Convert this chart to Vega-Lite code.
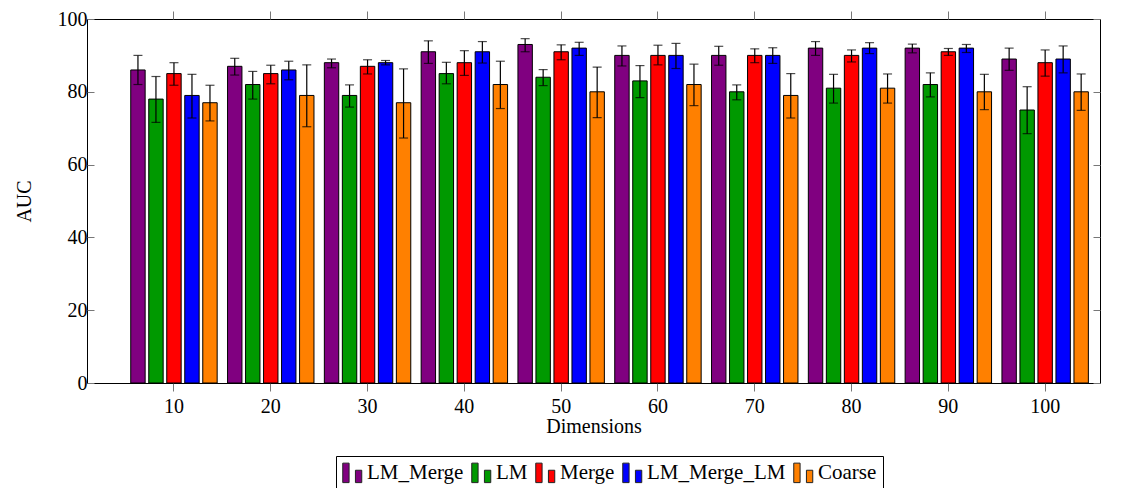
{
  "$schema": "https://vega.github.io/schema/vega-lite/v6.json",
  "width": 1013,
  "height": 364,
  "autosize": {"type": "none"},
  "padding": {"left": 87, "top": 19, "right": 27, "bottom": 105},
  "background": "white",
  "config": {
    "view": {"stroke": "black", "strokeWidth": 1},
    "font": "Liberation Serif",
    "axis": {"labelFont": "Liberation Serif", "titleFont": "Liberation Serif", "labelFontSize": 20, "titleFontSize": 20, "titleFontWeight": "normal", "labelColor": "black", "titleColor": "black", "grid": false, "domainColor": "black", "tickColor": "#777"},
    "legend": {"labelFont": "Liberation Serif", "labelFontSize": 21, "labelColor": "black"}
  },
  "data": {
    "values": [
      {"dim": 10, "series": "LM_Merge", "auc": 86, "lo": 82, "hi": 90},
      {"dim": 10, "series": "LM", "auc": 78, "lo": 71.6, "hi": 84.2},
      {"dim": 10, "series": "Merge", "auc": 85, "lo": 81.8, "hi": 88},
      {"dim": 10, "series": "LM_Merge_LM", "auc": 79, "lo": 72.8, "hi": 84.8},
      {"dim": 10, "series": "Coarse", "auc": 77, "lo": 72, "hi": 81.8},
      {"dim": 20, "series": "LM_Merge", "auc": 87, "lo": 84.6, "hi": 89.2},
      {"dim": 20, "series": "LM", "auc": 82, "lo": 78, "hi": 85.6},
      {"dim": 20, "series": "Merge", "auc": 85, "lo": 82.2, "hi": 87.3},
      {"dim": 20, "series": "LM_Merge_LM", "auc": 86, "lo": 83.3, "hi": 88.4},
      {"dim": 20, "series": "Coarse", "auc": 79, "lo": 70.4, "hi": 87.4},
      {"dim": 30, "series": "LM_Merge", "auc": 88, "lo": 86.6, "hi": 89},
      {"dim": 30, "series": "LM", "auc": 79, "lo": 75.8, "hi": 81.9},
      {"dim": 30, "series": "Merge", "auc": 87, "lo": 84.9, "hi": 88.8},
      {"dim": 30, "series": "LM_Merge_LM", "auc": 88, "lo": 87.4, "hi": 88.6},
      {"dim": 30, "series": "Coarse", "auc": 77, "lo": 67.3, "hi": 86.3},
      {"dim": 40, "series": "LM_Merge", "auc": 91, "lo": 87.8, "hi": 94},
      {"dim": 40, "series": "LM", "auc": 85, "lo": 82.2, "hi": 88.1},
      {"dim": 40, "series": "Merge", "auc": 88, "lo": 84.5, "hi": 91.3},
      {"dim": 40, "series": "LM_Merge_LM", "auc": 91, "lo": 87.9, "hi": 93.8},
      {"dim": 40, "series": "Coarse", "auc": 82, "lo": 75.4, "hi": 88.4},
      {"dim": 50, "series": "LM_Merge", "auc": 93, "lo": 91, "hi": 94.6},
      {"dim": 50, "series": "LM", "auc": 84, "lo": 81.7, "hi": 86.1},
      {"dim": 50, "series": "Merge", "auc": 91, "lo": 88.8, "hi": 92.9},
      {"dim": 50, "series": "LM_Merge_LM", "auc": 92, "lo": 90, "hi": 93.6},
      {"dim": 50, "series": "Coarse", "auc": 80, "lo": 72.9, "hi": 86.8},
      {"dim": 60, "series": "LM_Merge", "auc": 90, "lo": 87.1, "hi": 92.6},
      {"dim": 60, "series": "LM", "auc": 83, "lo": 78.4, "hi": 87.2},
      {"dim": 60, "series": "Merge", "auc": 90, "lo": 87.4, "hi": 92.8},
      {"dim": 60, "series": "LM_Merge_LM", "auc": 90, "lo": 86.4, "hi": 93.3},
      {"dim": 60, "series": "Coarse", "auc": 82, "lo": 76.2, "hi": 87.6},
      {"dim": 70, "series": "LM_Merge", "auc": 90, "lo": 87.3, "hi": 92.5},
      {"dim": 70, "series": "LM", "auc": 80, "lo": 77.8, "hi": 81.9},
      {"dim": 70, "series": "Merge", "auc": 90, "lo": 88, "hi": 91.8},
      {"dim": 70, "series": "LM_Merge_LM", "auc": 90, "lo": 87.8, "hi": 92.1},
      {"dim": 70, "series": "Coarse", "auc": 79, "lo": 72.8, "hi": 85},
      {"dim": 80, "series": "LM_Merge", "auc": 92, "lo": 90, "hi": 93.8},
      {"dim": 80, "series": "LM", "auc": 81, "lo": 76.9, "hi": 84.8},
      {"dim": 80, "series": "Merge", "auc": 90, "lo": 88.2, "hi": 91.5},
      {"dim": 80, "series": "LM_Merge_LM", "auc": 92, "lo": 90.5, "hi": 93.5},
      {"dim": 80, "series": "Coarse", "auc": 81, "lo": 76.9, "hi": 84.9},
      {"dim": 90, "series": "LM_Merge", "auc": 92, "lo": 90.7, "hi": 93.1},
      {"dim": 90, "series": "LM", "auc": 82, "lo": 78.6, "hi": 85.2},
      {"dim": 90, "series": "Merge", "auc": 91, "lo": 90, "hi": 91.9},
      {"dim": 90, "series": "LM_Merge_LM", "auc": 92, "lo": 90.8, "hi": 93},
      {"dim": 90, "series": "Coarse", "auc": 80, "lo": 75.1, "hi": 84.8},
      {"dim": 100, "series": "LM_Merge", "auc": 89, "lo": 85.9, "hi": 92},
      {"dim": 100, "series": "LM", "auc": 75, "lo": 68.5, "hi": 81.4},
      {"dim": 100, "series": "Merge", "auc": 88, "lo": 84.3, "hi": 91.5},
      {"dim": 100, "series": "LM_Merge_LM", "auc": 89, "lo": 85.2, "hi": 92.6},
      {"dim": 100, "series": "Coarse", "auc": 80, "lo": 74.9, "hi": 84.9}
    ]
  },
  "encoding": {
    "x": {"field": "dim", "type": "ordinal", "axis": null, "scale": {"paddingInner": 0.07, "paddingOuter": 0.2675, "align": 0.81}},
    "xOffset": {"field": "series", "type": "nominal", "sort": ["LM_Merge", "LM", "Merge", "LM_Merge_LM", "Coarse"], "scale": {"paddingInner": 0.2, "paddingOuter": 0.1}}
  },
  "layer": [
    {
      "mark": {"type": "bar", "stroke": "black", "strokeWidth": 1},
      "encoding": {
        "x": {"field": "dim", "type": "ordinal", "axis": {"orient": "bottom", "title": "Dimensions", "labelAngle": 0, "tickSize": 8, "labelPadding": 5, "titlePadding": 0, "domain": false}},
        "y": {"field": "auc", "type": "quantitative", "scale": {"domain": [0, 100], "nice": false}, "axis": {"orient": "left", "title": "AUC", "values": [0, 20, 40, 60, 80, 100], "tickSize": -7, "labelPadding": 7, "titlePadding": 23, "domain": false}},
        "color": {
          "field": "series", "type": "nominal",
          "sort": ["LM_Merge", "LM", "Merge", "LM_Merge_LM", "Coarse"],
          "scale": {"domain": ["LM_Merge", "LM", "Merge", "LM_Merge_LM", "Coarse"], "range": ["#800080", "#009900", "#ff0000", "#0000ff", "#ff8000"]},
          "legend": {
            "title": null, "orient": "none", "legendX": 249, "legendY": 437,
            "direction": "horizontal", "columns": 5,
            "symbolType": "M-1,-1H-0.35V1H-1Z M0.3,-0.27H0.95V1H0.3Z",
            "symbolSize": 380, "symbolStrokeColor": "#222", "symbolStrokeWidth": 1, "symbolOpacity": 1,
            "labelFont": "Liberation Serif", "labelFontSize": 21, "labelColor": "black",
            "labelOffset": 4, "columnPadding": 5, "padding": 6,
            "strokeColor": "black", "fillColor": "white",
            "encode": {"labels": {"update": {"font": {"value": "Liberation Serif"}, "fontSize": {"value": 21}}}}
          }
        }
      }
    },
    {
      "mark": {"type": "rule", "color": "black", "strokeWidth": 1.2},
      "encoding": {
        "x": {"field": "dim", "type": "ordinal", "axis": {"orient": "top", "title": null, "labels": false, "tickSize": 8, "domain": false}},
        "y": {"field": "lo", "type": "quantitative", "axis": {"orient": "right", "title": null, "labels": false, "values": [0, 20, 40, 60, 80, 100], "tickSize": -7, "domain": false}},
        "y2": {"field": "hi"}
      }
    },
    {
      "mark": {"type": "tick", "color": "black", "thickness": 1.2, "size": 9},
      "encoding": {
        "y": {"field": "lo", "type": "quantitative", "axis": null}
      }
    },
    {
      "mark": {"type": "tick", "color": "black", "thickness": 1.2, "size": 9},
      "encoding": {
        "y": {"field": "hi", "type": "quantitative", "axis": null}
      }
    }
  ],
  "resolve": {"axis": {"x": "independent", "y": "independent"}}
}
